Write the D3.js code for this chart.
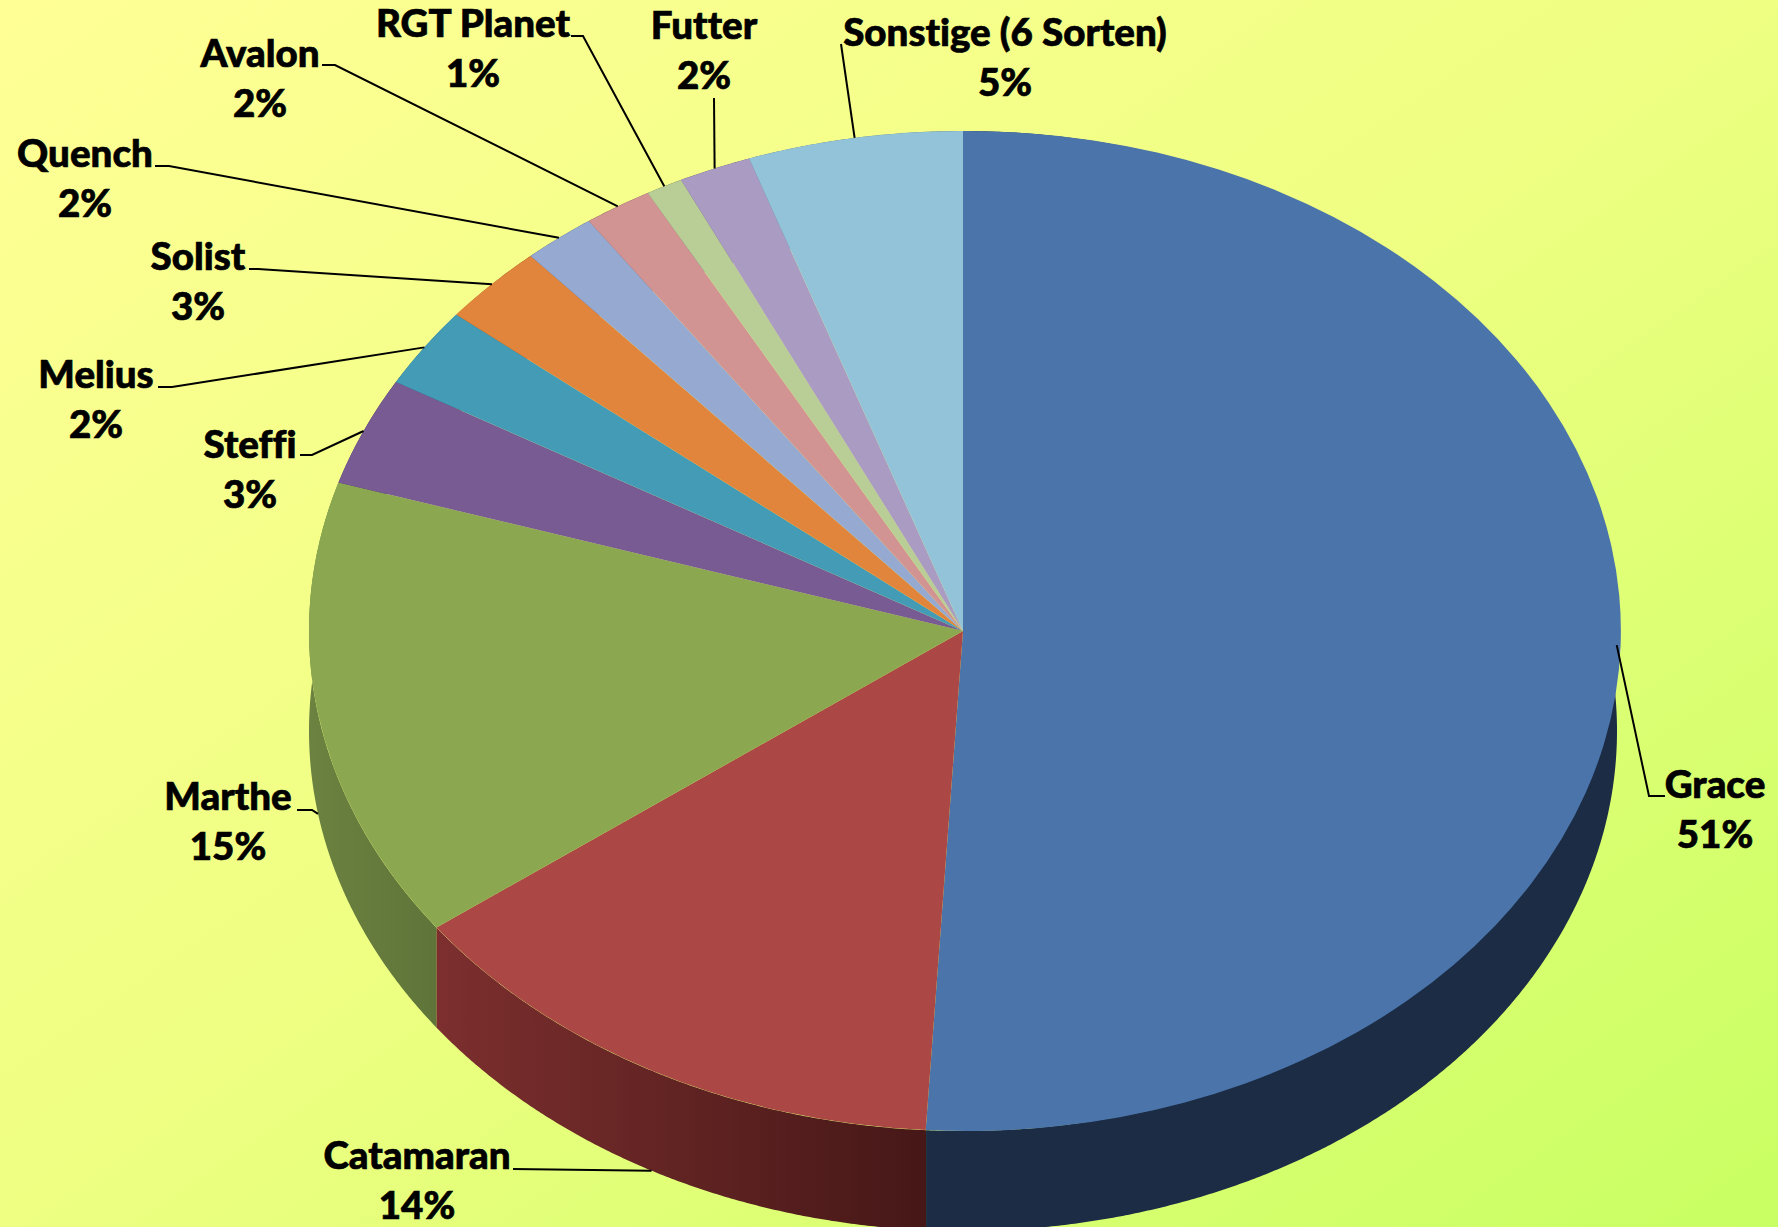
<!DOCTYPE html>
<html>
<head>
<meta charset="utf-8">
<script src="https://cdn.jsdelivr.net/npm/d3@7"></script>
<style>
  html, body { margin: 0; padding: 0; background: #eaff80; }
  svg { display: block; }
  text { font-family: Lato, "Open Sans", sans-serif; font-weight: 900; fill: #000; stroke: #000; stroke-width: 0.7px; font-variant-ligatures: none; }
</style>
</head>
<body>
<svg id="chart" width="1778" height="1227"></svg>
<script>
// shares (the printed labels are rounded differently)
const sorten = ["Grace", "Catamaran", "Marthe", "Steffi", "Melius", "Solist", "Quench", "Avalon", "RGT Planet", "Futter", "Sonstige (6 Sorten)"];
const anteile = [50.9, 14.0, 14.9, 3.5, 2.6, 2.6, 1.8, 1.7, 0.9, 1.8, 5.3];
const prozent = ["51%", "14%", "15%", "3%", "2%", "3%", "2%", "2%", "1%", "2%", "5%"];

const farben = ["#4a74aa", "#ab4744", "#8ba851", "#775b92", "#439bb5", "#e0853b", "#95a9d1", "#d29493", "#b9cd96", "#aa9bc2", "#93c3d8"];
const seitenVon = ["#1b2c44", "#7c2f2e", "#6c8240", "#4a3a5c", "#2b6172", "#8c5324", "#5d6a83", "#835d5c", "#74805e", "#6a6179", "#5c7a87"];
const seitenBis = ["#1b2c44", "#461717", "#5f7439", "#4a3a5c", "#2b6172", "#8c5324", "#5d6a83", "#835d5c", "#74805e", "#6a6179", "#5c7a87"];

// label placement: text centre, first baseline, start of leader, elbow of leader
const labelX = [1715, 417, 228, 250, 96, 198, 85, 260, 473, 704, 1005];
const labelY = [798, 1169, 810, 458, 388, 270, 167, 67, 37, 39, 46];
const leaderStart = [[1665, 796], [513, 1169], [297, 810], [300, 455], [158, 387], [249, 269], [155, 166], [322, 65], [571, 36], [714, 98], [841, 44]];
const leaderElbow = [[1649, 796], null, [312, 810], [312, 455], [172, 387], [258, 269], [169, 166], [335, 65], [583, 36], null, null];

const width = 1778, height = 1227;
const cx = 963, cy = 631, rx = 654, ry = 500, depth = 100;
const fontSize = 38.5, lineGap = 50;

const svg = d3.select("#chart");
const defs = svg.append("defs");

// background
const bg = defs.append("linearGradient")
  .attr("id", "bg")
  .attr("x1", 0).attr("y1", 0).attr("x2", 1).attr("y2", 1);
bg.append("stop").attr("offset", "0%").attr("stop-color", "#ffff96");
bg.append("stop").attr("offset", "50%").attr("stop-color", "#eeff82");
bg.append("stop").attr("offset", "100%").attr("stop-color", "#c8ff62");
svg.append("rect").attr("width", width).attr("height", height).attr("fill", "url(#bg)");

const pie = d3.pie().sort(null).value(d => d);
const slices = pie(anteile);

sorten.forEach((s, i) => {
  const g = defs.append("linearGradient").attr("id", "seite" + i).attr("x1", 0).attr("x2", 1).attr("y1", 0).attr("y2", 0);
  g.append("stop").attr("offset", "0%").attr("stop-color", seitenVon[i]);
  g.append("stop").attr("offset", "100%").attr("stop-color", seitenBis[i]);
});

const px = a => cx + rx * Math.sin(a);
const py = a => cy - ry * Math.cos(a);

// side wall of the disc
const wall = d3.area().x(a => px(a)).y0(a => py(a)).y1(a => py(a) + depth);
svg.append("g").selectAll("path")
  .data(slices)
  .enter().append("path")
  .attr("d", d => wall(d3.range(d.startAngle, d.endAngle, 0.005).concat(d.endAngle)))
  .attr("fill", (d, i) => `url(#seite${i})`);

// top of the disc
const arc = d3.arc().innerRadius(0).outerRadius(1);
svg.append("g")
  .attr("transform", `translate(${cx},${cy}) scale(${rx},${ry})`)
  .selectAll("path")
  .data(slices)
  .enter().append("path")
  .attr("d", arc)
  .attr("fill", (d, i) => farben[i]);

// leader lines
const line = d3.line();
svg.append("g").selectAll("path")
  .data(slices)
  .enter().append("path")
  .attr("d", (d, i) => {
    const mid = (d.startAngle + d.endAngle) / 2;
    const onWall = Math.cos(mid) < -0.1;
    const end = [px(mid), py(mid) + (onWall ? depth : 0)];
    return line([leaderStart[i], leaderElbow[i], end].filter(p => p));
  })
  .attr("fill", "none")
  .attr("stroke", "#000")
  .attr("stroke-width", 2);

// labels
const labels = svg.append("g").selectAll("text")
  .data(sorten)
  .enter().append("text")
  .attr("text-anchor", "middle")
  .attr("font-size", fontSize)
  .attr("x", (d, i) => labelX[i])
  .attr("y", (d, i) => labelY[i]);
labels.append("tspan").text(d => d);
labels.append("tspan")
  .attr("x", (d, i) => labelX[i])
  .attr("dy", lineGap)
  .text((d, i) => prozent[i]);
</script>
</body>
</html>
